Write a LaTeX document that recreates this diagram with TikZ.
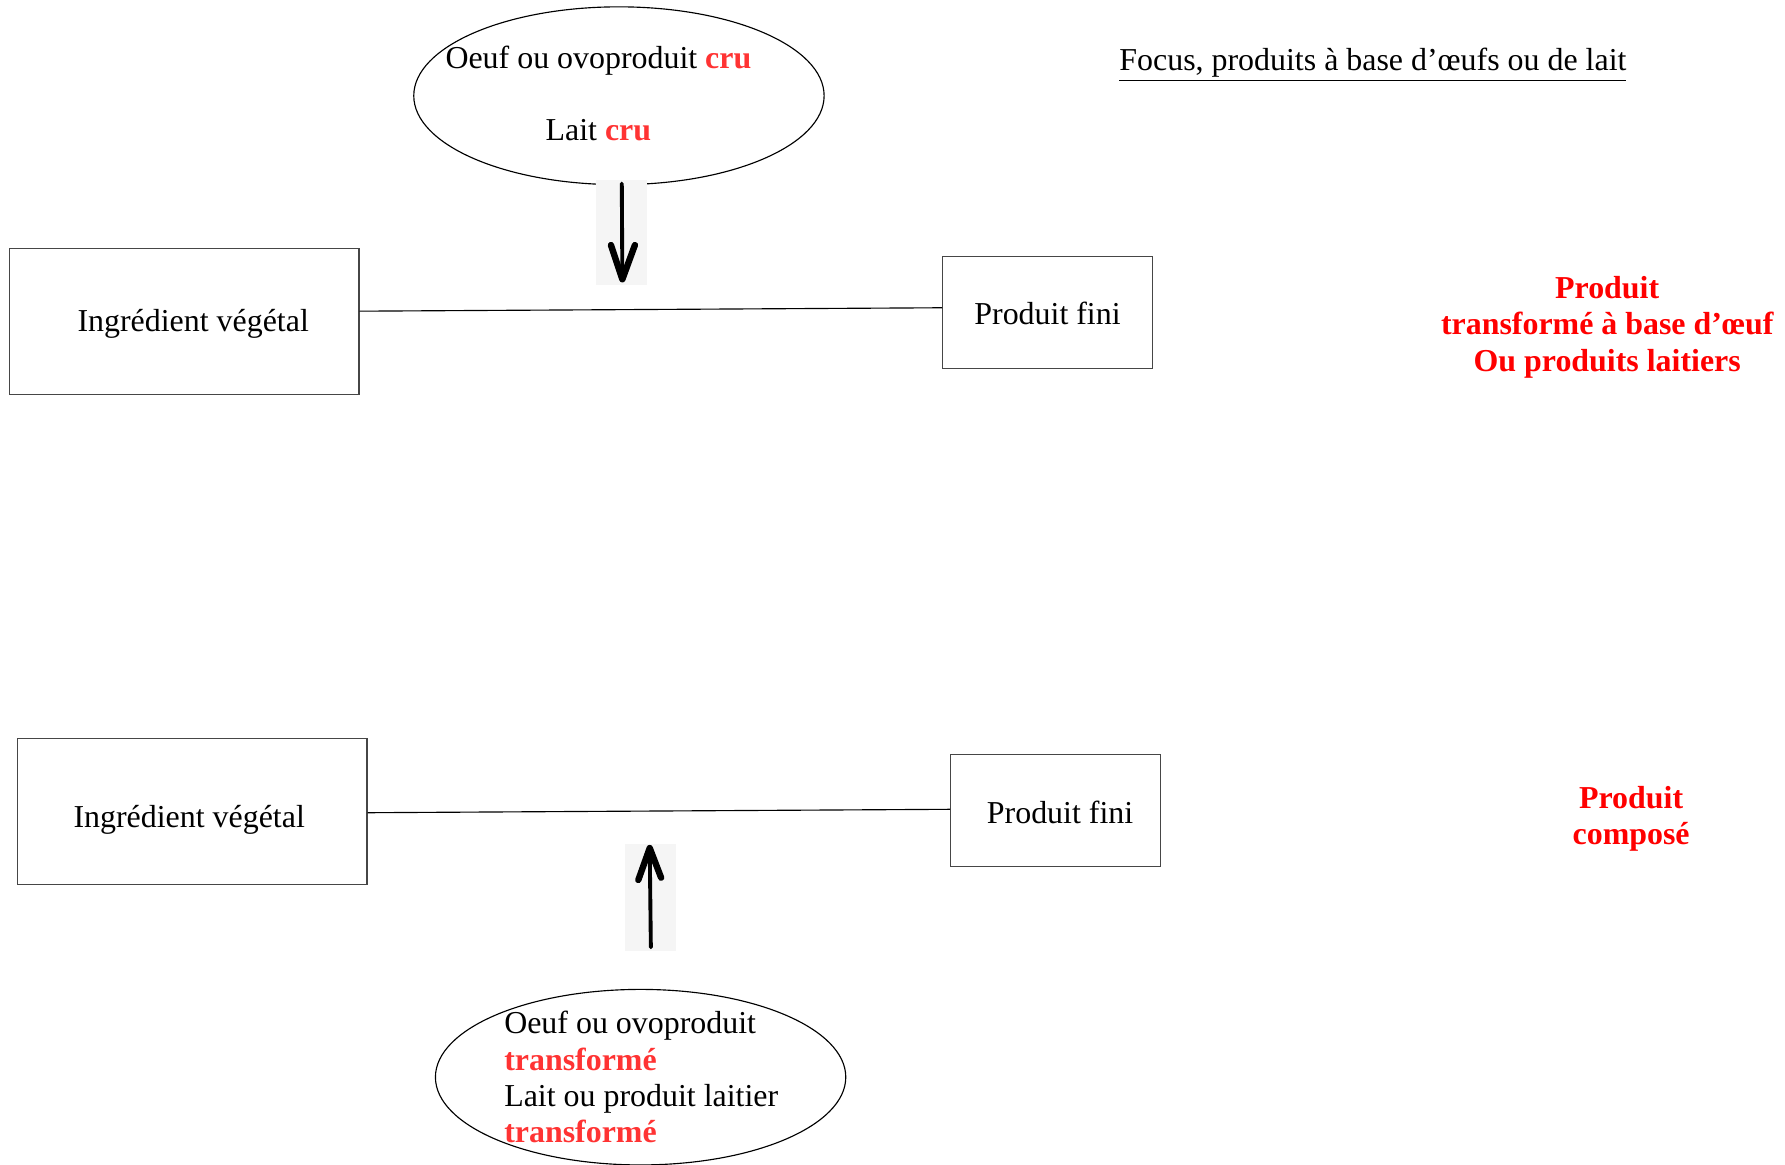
\documentclass[tikz,border=0pt]{standalone}
\usepackage{fontspec}
\setmainfont{Liberation Serif}
\usetikzlibrary{shapes.geometric}
\definecolor{ltred}{RGB}{255,51,51}
\definecolor{arrbg}{RGB}{245,245,245}
\definecolor{boxline}{RGB}{70,70,70}
\tikzset{
  boxnode/.style={draw=boxline, line width=0.5pt, inner sep=0pt, align=center},
  ellnode/.style={draw=black, line width=0.5pt, ellipse, inner sep=0pt},
  arrbox/.style={fill=arrbg, draw=none, inner sep=0pt, minimum width=22.5pt},
  handarrow/.style={line width=1.7pt, line cap=round, line join=round},
  handhead/.style={line width=2.8pt, line cap=round, line join=round},
  redtitle/.style={text=red, font=\fontsize{14}{16}\selectfont\bfseries, align=center, inner sep=0pt},
  plain/.style={inner sep=0pt, align=center},
  link/.style={draw=black, line width=0.5pt}
}
\begin{document}
\begin{tikzpicture}[x=0.5pt, y=-0.5pt, font=\fontsize{14}{16}\selectfont]
\useasboundingbox (0,0) rectangle (1566,1022);
\fill[white] (0,0) rectangle (1566,1022);

% title
\node[plain] (title) at (1204.5,57) {\underline{Focus, produits à base d’œufs ou de lait}};

% ---------- top diagram ----------
\node[ellnode, minimum width=180pt, minimum height=78pt] (ell1) at (543,84) {};
\node[plain] (ell1txt) at (525,82) {Oeuf ou ovoproduit \textcolor{ltred}{\textbf{cru}}\\[16pt]Lait \textcolor{ltred}{\textbf{cru}}};

\node[arrbox, minimum height=46pt] (arr1) at (545.5,204) {};
\coordinate (arr1top) at (545.5,161);
\coordinate (arr1tip) at (546,245);
\draw[handarrow] (arr1top) -- (arr1tip);
\draw[handhead] (536,215) -- (arr1tip) -- (557,215);

\node[boxnode, minimum width=153.5pt, minimum height=64pt] (ing1) at (161.5,282) {};
\node[plain] (ing1txt) at (169.5,284) {Ingrédient végétal};
\node[boxnode, minimum width=92pt, minimum height=49pt] (pf1) at (919,274) {};
\node[plain] (pf1txt) at (919,275) {Produit fini};
\draw[link] ([yshift=4.5pt]ing1.east) -- ([yshift=2pt]pf1.west);

\node[redtitle] (res1) at (1410,287) {Produit\\transformé à base d’œuf\\Ou produits laitiers};

% ---------- bottom diagram ----------
\node[boxnode, minimum width=153.5pt, minimum height=64pt] (ing2) at (168.5,712) {};
\node[plain] (ing2txt) at (166,719) {Ingrédient végétal};
\node[boxnode, minimum width=92pt, minimum height=49pt] (pf2) at (926,711) {};
\node[plain] (pf2txt) at (930,713) {Produit fini};
\draw[link] ([yshift=-0.5pt]ing2.east) -- ([yshift=0.5pt]pf2.west);

\node[redtitle] (res2) at (1431,718.5) {Produit\\composé};

\node[arrbox, minimum height=47pt] (arr2) at (570.5,787) {};
\coordinate (arr2bot) at (571,831);
\coordinate (arr2tip) at (570,744);
\draw[handarrow] (arr2bot) -- (arr2tip);
\draw[handhead] (560,772) -- (arr2tip) -- (580,770);

\node[ellnode, minimum width=180pt, minimum height=77pt] (ell2) at (562,945) {};
\node[inner sep=0pt, align=left, anchor=west] (ell2txt) at (442,945) {Oeuf ou ovoproduit\\\textcolor{ltred}{\textbf{transformé}}\\Lait ou produit laitier\\\textcolor{ltred}{\textbf{transformé}}};
\end{tikzpicture}
\end{document}
